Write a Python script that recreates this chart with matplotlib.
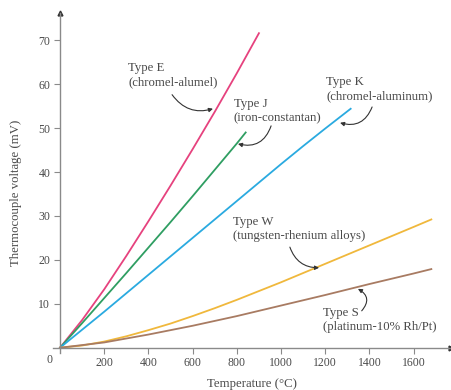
import matplotlib
matplotlib.use("Agg")
import matplotlib.pyplot as plt

#########################################################################################################
#! Data

temp_e = [0, 100, 200, 300, 400, 500, 600, 700, 800, 900]
volt_e = [0, 6.3, 13.3, 20.9, 28.8, 36.9, 45.2, 53.7, 62.5, 71.6]

temp_j = [0, 100, 200, 300, 400, 500, 600, 700, 800, 840]
volt_j = [0, 5.6, 11.3, 17.0, 22.8, 28.6, 34.5, 40.5, 46.5, 49.0]

temp_k = [0, 100, 200, 300, 400, 500, 600, 700, 800, 900, 1000, 1100, 1200, 1315]
volt_k = [0, 4.1, 8.2, 12.4, 16.6, 20.8, 25.0, 29.2, 33.4, 37.6, 41.8, 45.9, 49.9, 54.4]

temp_w = [0, 100, 200, 300, 400, 500, 600, 700, 800, 900, 1000, 1200, 1400, 1600, 1680]
volt_w = [0, 0.5, 1.4, 2.6, 4.0, 5.5, 7.2, 9.0, 10.9, 12.9, 14.9, 19.1, 23.3, 27.5, 29.2]

temp_s = [0, 200, 400, 600, 800, 1000, 1200, 1400, 1600, 1680]
volt_s = [0, 1.2, 3.0, 5.0, 7.2, 9.6, 12.0, 14.5, 16.9, 17.9]

x_ticks = [200, 400, 600, 800, 1000, 1200, 1400, 1600]
y_ticks = [10, 20, 30, 40, 50, 60, 70]

# label text, text position, arrow start, arrow tip, arc
labels = [
    ("Type E\n(chromel-alumel)",          (308, 62.0),  (507, 57.6),  (692, 54.4),  0.35),
    ("Type J\n(iron-constantan)",         (787, 53.9),  (955, 50.5),  (805, 46.4),  -0.45),
    ("Type K\n(chromel-aluminum)",        (1204, 58.8), (1412, 54.8), (1267, 51.2), -0.45),
    ("Type W\n(tungsten-rhenium alloys)", (783, 27.0),  (1040, 22.9), (1172, 18.2), 0.35),
    ("Type S\n(platinum-10% Rh/Pt)",      (1190, 6.3),  (1365, 8.4),  (1348, 13.4), 0.6),
]

#########################################################################################################

TEXT_COLOR = "#4a4a4a"
AXIS_COLOR = "#8a8a8a"
SERIF      = ["Liberation Serif", "DejaVu Serif"]

plt.rcParams["font.family"] = SERIF

fig = plt.figure(figsize=(4.51, 3.90), dpi=100)
ax  = fig.add_axes([0.1184, 0.0949, 0.8816, 0.8718])

ax.plot(temp_e, volt_e, color="#e6427e", lw=1.3)
ax.plot(temp_j, volt_j, color="#2f9e62", lw=1.3)
ax.plot(temp_k, volt_k, color="#2aaae0", lw=1.3)
ax.plot(temp_w, volt_w, color="#f0b83c", lw=1.3)
ax.plot(temp_s, volt_s, color="#a87b62", lw=1.3)

ax.set_xlim(-30, 1769)
ax.set_ylim(-1.2, 76.2)

# axes cross at the origin
for side in ["top", "right"]:
    ax.spines[side].set_visible(False)
for side in ["left", "bottom"]:
    ax.spines[side].set_position(("data", 0))
    ax.spines[side].set_color(AXIS_COLOR)
    ax.spines[side].set_linewidth(1.0)

# arrow heads on the axes
ax.plot(1, 0, ">", color="#333333", ms=3.5, transform=ax.get_yaxis_transform(), clip_on=False)
ax.plot(0, 1, "^", color="#333333", ms=3.5, transform=ax.get_xaxis_transform(), clip_on=False)

ax.set_xticks(x_ticks)
ax.set_yticks(y_ticks)
ax.tick_params(direction="out", length=4, width=0.8, color=AXIS_COLOR,
               labelcolor=TEXT_COLOR, labelsize=8.5, pad=3)
ax.text(-32, -1.5, "0", ha="right", va="top", fontsize=8.5, color=TEXT_COLOR)

ax.set_xlabel("Temperature (°C)", fontsize=9.2, color=TEXT_COLOR)
ax.xaxis.set_label_coords(0.5, -0.075)
ax.set_ylabel("Thermocouple voltage (mV)", fontsize=9.2, color=TEXT_COLOR)
ax.yaxis.set_label_coords(-0.078, 0.47)

# curved callouts
for text, text_pos, start, tip, rad in labels:
    ax.text(text_pos[0], text_pos[1], text, ha="left", va="center",
            fontsize=9.2, color=TEXT_COLOR, linespacing=1.25)
    ax.annotate("", xy=tip, xytext=start,
                arrowprops=dict(arrowstyle="-|>", color="#333333", lw=0.8,
                                connectionstyle=f"arc3,rad={rad}",
                                mutation_scale=6, shrinkA=0, shrinkB=0))

plt.savefig("out.png", dpi=100)
plt.close()
